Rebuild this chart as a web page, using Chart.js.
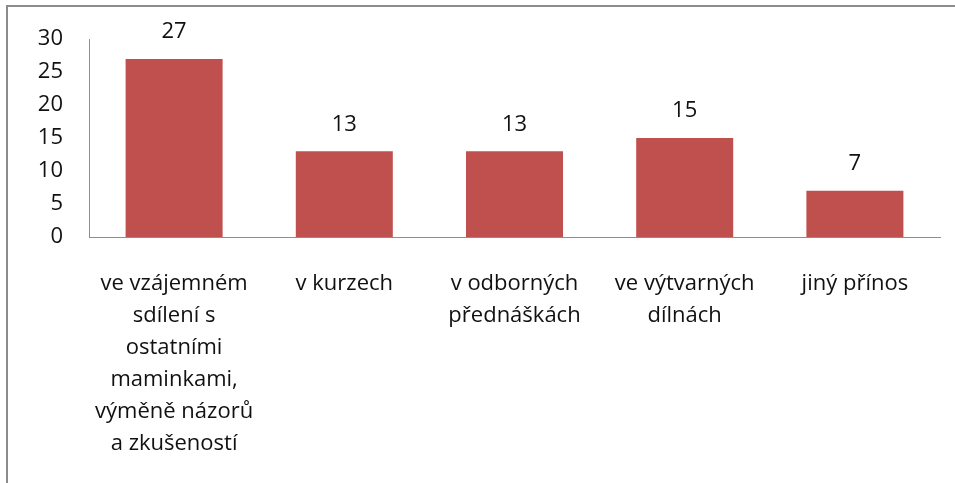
<!DOCTYPE html>
<html lang="cs">
<head>
    <meta charset="UTF-8">
    <title>Přínos</title>
    <script src="https://cdn.jsdelivr.net/npm/chart.js"></script>
    <style>
        html, body { margin: 0; padding: 0; background: #fff; }
        #wrap { width: 955px; height: 483px; }
    </style>
</head>
<body>
    <div id="wrap"><canvas id="prinosChart" width="955" height="483"></canvas></div>

    <script>
        // category labels, already wrapped like in the original
        const categories = [
            ['ve vzájemném', 'sdílení s', 'ostatními', 'maminkami,', 'výměně názorů', 'a zkušeností'],
            ['v kurzech'],
            ['v odborných', 'přednáškách'],
            ['ve výtvarných', 'dílnách'],
            ['jiný přínos']
        ];
        const values = [27, 13, 13, 15, 7];
        const yTicks = [0, 5, 10, 15, 20, 25, 30];

        const FONT = '"Open Sans", Lato, sans-serif';

        // frame at top and left, like the cropped screenshot
        const framePlugin = {
            id: 'frame',
            beforeDraw(chart) {
                const c = chart.ctx;
                c.save();
                c.strokeStyle = '#8c8c8c';
                c.lineWidth = 2;
                c.beginPath();
                c.moveTo(7, 483);
                c.lineTo(7, 6);
                c.lineTo(955, 6);
                c.stroke();
                c.restore();
            }
        };

        // value above each bar
        const valueLabels = {
            id: 'valueLabels',
            afterDatasetsDraw(chart) {
                const c = chart.ctx;
                const meta = chart.getDatasetMeta(0);
                c.save();
                c.font = '22px ' + FONT;
                c.fillStyle = '#111';
                c.textAlign = 'center';
                c.textBaseline = 'middle';
                meta.data.forEach((bar, i) => {
                    c.fillText(values[i], bar.x, bar.y - 27);
                });
                c.restore();
            }
        };

        new Chart(document.getElementById('prinosChart'), {
            type: 'bar',
            data: {
                labels: categories,
                datasets: [{
                    data: values,
                    backgroundColor: '#C0504D',
                    categoryPercentage: 1,
                    barPercentage: 0.57
                }]
            },
            options: {
                responsive: false,
                animation: false,
                layout: { padding: { top: 37, right: 15, left: 0, bottom: 0 } },
                plugins: {
                    legend: { display: false },
                    tooltip: { enabled: false }
                },
                scales: {
                    x: {
                        grid: { display: false, drawTicks: false },
                        border: { display: true, color: '#8e8e8e', width: 1 },
                        ticks: {
                            color: '#111',
                            font: { family: FONT, size: 22, lineHeight: 1.455 },
                            padding: 31,
                            maxRotation: 0,
                            autoSkip: false
                        },
                        afterFit(s) { s.height = 246; }
                    },
                    y: {
                        min: 0,
                        max: 30,
                        grid: { display: false, drawTicks: false },
                        border: { display: true, color: '#8e8e8e', width: 1 },
                        afterBuildTicks(s) { s.ticks = yTicks.map(v => ({ value: v })); },
                        ticks: {
                            color: '#111',
                            font: { family: FONT, size: 22 },
                            padding: 26
                        },
                        afterFit(s) { s.width = 89; }
                    }
                }
            },
            plugins: [framePlugin, valueLabels]
        });
    </script>
</body>
</html>
